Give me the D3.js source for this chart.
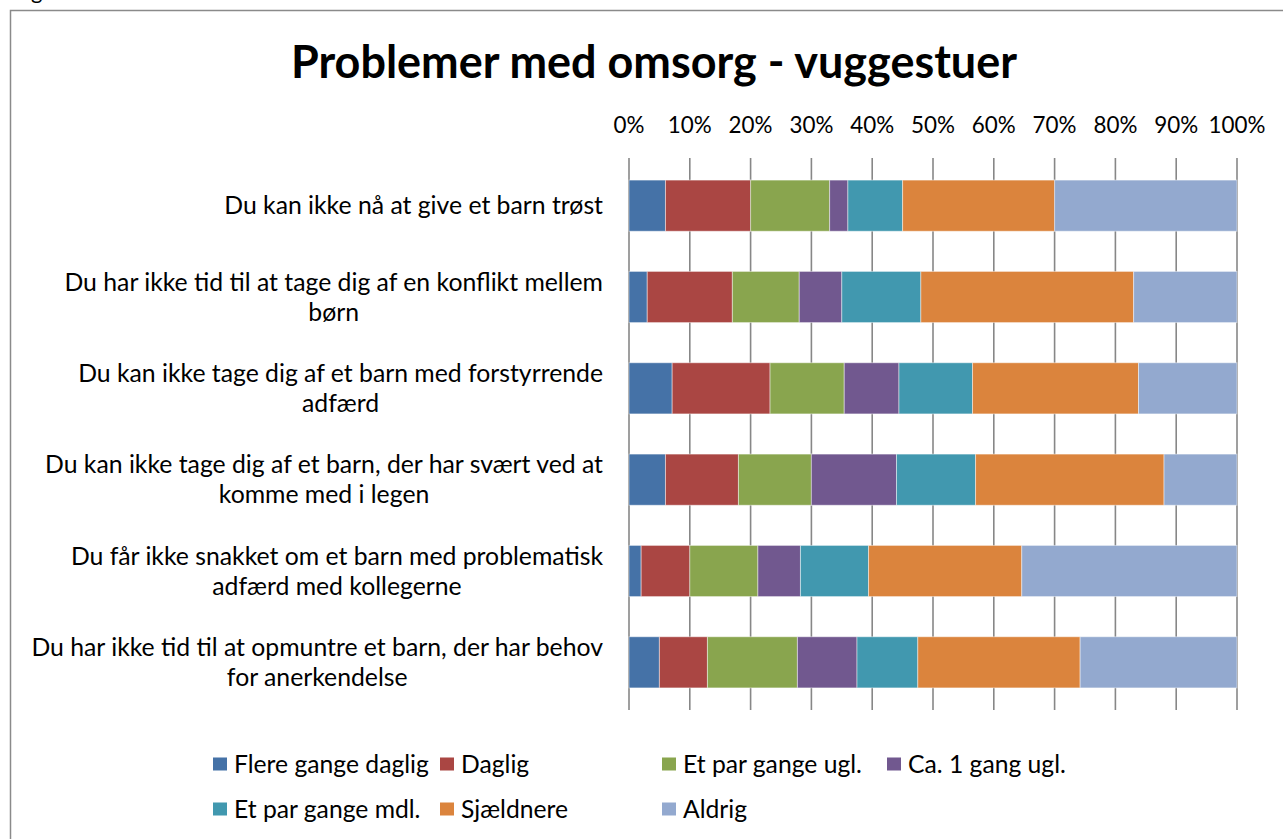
<!DOCTYPE html>
<html>
<head>
<meta charset="utf-8">
<script src="https://cdn.jsdelivr.net/npm/d3@7"></script>
<style>
  body { margin: 0; background: #fff; }
  svg { display: block; }
  text { font-family: Lato, "Open Sans", sans-serif; fill: #000; }
</style>
</head>
<body>
<svg width="1283" height="839"></svg>
<script>
const title = "Problemer med omsorg - vuggestuer";

const categories = [
  "Du kan ikke nå at give et barn trøst",
  "Du har ikke tid til at tage dig af en konflikt mellem børn",
  "Du kan ikke tage dig af et barn med forstyrrende adfærd",
  "Du kan ikke tage dig af et barn, der har svært ved at komme med i legen",
  "Du får ikke snakket om et barn med problematisk adfærd med kollegerne",
  "Du har ikke tid til at opmuntre et barn, der har behov for anerkendelse"
];
// how the labels wrap in the original
const categoryLines = [
  ["Du kan ikke nå at give et barn trøst"],
  ["Du har ikke tid til at tage dig af en konflikt mellem", "børn"],
  ["Du kan ikke tage dig af et barn med forstyrrende", "adfærd"],
  ["Du kan ikke tage dig af et barn, der har svært ved at", "komme med i legen"],
  ["Du får ikke snakket om et barn med problematisk", "adfærd med kollegerne"],
  ["Du har ikke tid til at opmuntre et barn, der har behov", "for anerkendelse"]
];

const seriesNames = ["Flere gange daglig", "Daglig", "Et par gange ugl.", "Ca. 1 gang ugl.",
  "Et par gange mdl.", "Sjældnere", "Aldrig"];

// percent of answers, one value per category
const flereGangeDaglig = [6, 3, 7.1, 6, 2, 5];
const daglig = [14, 14, 16.1, 12, 8, 7.9];
const etParGangeUgl = [13, 11, 12.2, 12, 11.2, 14.8];
const ca1GangUgl = [3, 7, 9.0, 14, 7, 9.8];
const etParGangeMdl = [9, 13, 12.1, 13, 11.2, 10];
const sjaeldnere = [25, 35, 27.3, 31, 25.2, 26.7];
const aldrig = [30, 17, 16.2, 12, 35.4, 25.8];

const xTicks = [0, 0.1, 0.2, 0.3, 0.4, 0.5, 0.6, 0.7, 0.8, 0.9, 1];

const colors = ["#4572A7", "#AA4643", "#89A54E", "#71588F", "#4198AF", "#DB843D", "#93A9CF"];

const seriesValues = [flereGangeDaglig, daglig, etParGangeUgl, ca1GangUgl, etParGangeMdl, sjaeldnere, aldrig];
const rows = categories.map((c, i) => {
  let r = {category: c};
  seriesNames.forEach((s, j) => r[s] = seriesValues[j][i]);
  return r;
});

const svg = d3.select("svg");

// pick a font size so a sample string gets the width it has in the original
function fitSize(sample, target, weight) {
  let t = svg.append("text").attr("font-size", 20).attr("font-weight", weight || "normal").text(sample);
  let w = t.node().getComputedTextLength();
  t.remove();
  return 20 * target / w;
}
const titleSize = fitSize(title, 726, "bold");
const labelSize = fitSize(categoryLines[1][0], 539);
const legendSize = fitSize(seriesNames[0], 195);
const tickSize = fitSize("100%", 57);

// bit of the page text above the chart that sticks into the crop
svg.append("text")
  .attr("x", 31).attr("y", -1)
  .attr("font-size", 22)
  .text("g");

// frame
svg.append("rect")
  .attr("x", 10.5).attr("y", 10.5)
  .attr("width", 1300).attr("height", 900)
  .attr("fill", "none")
  .attr("stroke", "#8a8a8a")
  .attr("stroke-width", 1.5);

svg.append("text")
  .attr("x", 654).attr("y", 78)
  .attr("text-anchor", "middle")
  .attr("font-weight", "bold")
  .attr("font-size", titleSize)
  .text(title);

const x = d3.scaleLinear().domain([0, 1]).range([629, 1237]);
const y = d3.scaleBand().domain(categories).range([160, 708]).paddingInner(0.44).paddingOuter(0.22);

// grid + top axis
const grid = svg.append("g");
grid.selectAll("line")
  .data(xTicks)
  .join("line")
  .attr("x1", d => x(d)).attr("x2", d => x(d))
  .attr("y1", 158).attr("y2", 710)
  .attr("stroke", "#878787")
  .attr("stroke-width", 1.6);

svg.append("g")
  .selectAll("text")
  .data(xTicks)
  .join("text")
  .attr("x", d => x(d))
  .attr("y", 125)
  .attr("dy", "0.35em")
  .attr("text-anchor", "middle")
  .attr("font-size", tickSize)
  .text(d3.format(".0%"));

const stack = d3.stack().keys(seriesNames).offset(d3.stackOffsetExpand);
const stacked = stack(rows);

svg.append("g")
  .selectAll("g")
  .data(stacked)
  .join("g")
  .attr("fill", (d, i) => colors[i])
  .selectAll("rect")
  .data(d => d)
  .join("rect")
  .attr("x", d => x(d[0]))
  .attr("width", d => x(d[1]) - x(d[0]))
  .attr("y", d => y(d.data.category))
  .attr("height", y.bandwidth())
  .attr("stroke", "#ffffff")
  .attr("stroke-opacity", 0.45)
  .attr("stroke-width", 1);

// category labels: block right-aligned at 603, lines centred inside it
const labels = svg.append("g");
categories.forEach((c, i) => {
  let lines = categoryLines[i];
  let g = labels.append("g");
  let texts = lines.map((l, k) => g.append("text")
    .attr("font-size", labelSize)
    .attr("text-anchor", "middle")
    .attr("dy", "0.35em")
    .attr("y", y(c) + y.bandwidth() / 2 + (k - (lines.length - 1) / 2) * 30)
    .text(l));
  let maxW = d3.max(texts, t => t.node().getComputedTextLength());
  texts.forEach(t => t.attr("x", 603 - maxW / 2));
});

// legend
const legendPos = [
  [213, 764], [440, 764], [662, 764], [887, 764],
  [213, 809], [440, 809], [662, 809]
];
const legend = svg.append("g")
  .selectAll("g")
  .data(seriesNames)
  .join("g")
  .attr("transform", (d, i) => "translate(" + legendPos[i][0] + "," + legendPos[i][1] + ")");
legend.append("rect")
  .attr("x", 0).attr("y", -6.5)
  .attr("width", 14).attr("height", 13)
  .attr("fill", (d, i) => colors[i]);
legend.append("text")
  .attr("x", 21)
  .attr("dy", "0.35em")
  .attr("font-size", legendSize)
  .text(d => d);
</script>
</body>
</html>
